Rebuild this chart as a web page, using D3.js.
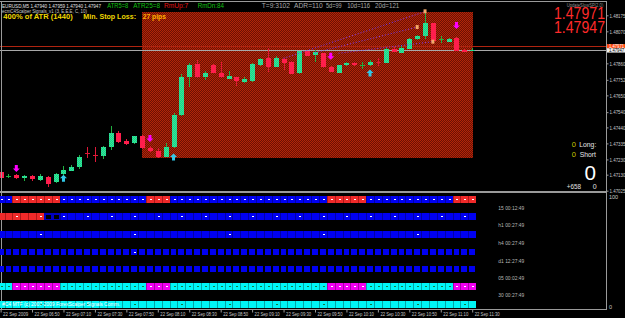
<!DOCTYPE html>
<html><head><meta charset="utf-8">
<script src="https://cdn.jsdelivr.net/npm/d3@7"></script>
<style>
html,body{margin:0;padding:0;background:#000;overflow:hidden}
svg{display:block}
text{font-family:"Liberation Sans",Arial,sans-serif}
</style></head><body>
<svg id="c" width="625" height="318"></svg>
<script>
// ---------------- DATA ----------------
const barTimes = ["06:30","06:35","06:40","06:45","06:50","06:55",
 "07:00","07:05","07:10","07:15","07:20","07:25","07:30","07:35","07:40","07:45","07:50","07:55",
 "08:00","08:05","08:10","08:15","08:20","08:25","08:30","08:35","08:40","08:45","08:50","08:55",
 "09:00","09:05","09:10","09:15","09:20","09:25","09:30","09:35","09:40","09:45","09:50","09:55",
 "10:00","10:05","10:10","10:15","10:20","10:25","10:30","10:35","10:40","10:45","10:50","10:55",
 "11:00","11:05","11:10","11:15","11:20","11:25","11:30"];
const openP  = [1.47150,1.47120,1.47128,1.47107,1.47122,1.47095,1.47113,1.47080,1.47135,1.47156,
 1.47183,1.47276,1.47264,1.47253,1.47314,1.47406,1.47349,1.47337,1.47385,1.47303,
 1.47286,1.47247,1.47314,1.47521,1.47772,1.47856,1.47772,1.47849,1.47798,1.47759,
 1.47768,1.47738,1.47742,1.47847,1.47897,1.47838,1.47888,1.47867,1.47795,1.47939,
 1.47915,1.47926,1.47838,1.47797,1.47847,1.47864,1.47846,1.47847,1.47870,1.47864,
 1.47952,1.47930,1.47954,1.48020,1.48041,1.48123,1.48017,1.48002,1.48024,1.47947,1.47940];
const highP  = [1.47154,1.47135,1.47135,1.47128,1.47125,1.47135,1.47122,1.47141,1.47187,1.47194,
 1.47259,1.47314,1.47314,1.47318,1.47450,1.47417,1.47367,1.47385,1.47392,1.47320,
 1.47305,1.47335,1.47534,1.47790,1.47862,1.47882,1.47809,1.47856,1.47870,1.47812,
 1.47773,1.47773,1.47859,1.47892,1.47959,1.47908,1.47895,1.47875,1.47944,1.47944,
 1.47945,1.47931,1.47842,1.47852,1.47869,1.47869,1.47869,1.47885,1.47893,1.47961,
 1.47967,1.47980,1.48023,1.48046,1.48199,1.48125,1.48039,1.48023,1.48033,1.47951,1.47959];
const lowP   = [1.47102,1.47109,1.47102,1.47091,1.47091,1.47089,1.47048,1.47076,1.47128,1.47154,
 1.47168,1.47238,1.47215,1.47231,1.47292,1.47339,1.47325,1.47331,1.47300,1.47280,
 1.47242,1.47245,1.47305,1.47514,1.47707,1.47764,1.47751,1.47794,1.47764,1.47757,
 1.47711,1.47734,1.47738,1.47843,1.47805,1.47833,1.47816,1.47787,1.47790,1.47905,
 1.47867,1.47829,1.47800,1.47794,1.47843,1.47843,1.47826,1.47843,1.47843,1.47859,
 1.47934,1.47928,1.47951,1.48016,1.48018,1.48006,1.47995,1.47999,1.47941,1.47934,1.47940];
const closeP = [1.47107,1.47122,1.47110,1.47122,1.47104,1.47122,1.47069,1.47135,1.47161,1.47183,
 1.47248,1.47274,1.47262,1.47314,1.47402,1.47343,1.47331,1.47381,1.47302,1.47284,
 1.47247,1.47309,1.47521,1.47772,1.47849,1.47768,1.47798,1.47798,1.47768,1.47777,
 1.47742,1.47755,1.47854,1.47886,1.47838,1.47897,1.47864,1.47792,1.47941,1.47908,
 1.47932,1.47834,1.47803,1.47847,1.47864,1.47847,1.47848,1.47869,1.47868,1.47954,
 1.47936,1.47959,1.48018,1.48039,1.48123,1.48008,1.48018,1.48018,1.47943,1.47936,1.47947];

const sellArrows = [{bar:"06:40",price:1.47171},{bar:"08:05",price:1.47368},{bar:"10:00",price:1.47906},{bar:"11:20",price:1.48108}];
const buyArrows  = [{bar:"07:10",price:1.47107},{bar:"08:20",price:1.47246},{bar:"10:25",price:1.47797}];
const pivotMarks = [{bar:"10:55",price:1.48098},{bar:"11:00",price:1.48201},{bar:"11:05",price:1.48002}];
const trendLines = [
  [{bar:"09:30",price:1.47893},{bar:"11:00",price:1.48199}],
  [{bar:"09:50",price:1.47930},{bar:"10:55",price:1.48098}],
  [{bar:"10:05",price:1.47926},{bar:"11:05",price:1.48002}]];
const zoneBox = {from:"08:00", to:"11:30", top:1.48199, bottom:1.47241};
const askPrice = 1.47971, bidPrice = 1.47947;

const priceTicks = [1.48175,1.48070,1.47860,1.47752,1.47650,1.47540,1.47440,1.47335,1.47230,1.47130,1.47025];
const priceTickLabels = ["1.48175","1.48070","1.47860","1.47752","1.47650","1.47540","1.47440","1.47335","1.47230","1.47130","1.47025"];
const timeTicks = ["06:30","06:50","07:10","07:30","07:50","08:10","08:30","08:50","09:10","09:30","09:50","10:10","10:30","10:50","11:10","11:30"];
const timeTickLabels = ["22 Sep 2009","22 Sep 06:50","22 Sep 07:10","22 Sep 07:30","22 Sep 07:50","22 Sep 08:10","22 Sep 08:30","22 Sep 08:50","22 Sep 09:10","22 Sep 09:30","22 Sep 09:50","22 Sep 10:10","22 Sep 10:30","22 Sep 10:50","22 Sep 11:10","22 Sep 11:30"];

// sub-window rows: run-length states (B blue, R red, K empty, C cyan, M magenta)
const rowRuns = [
  [["B",2],["R",6],["B",11],["R",3],["B",20],["R",5],["B",11],["R",3]],
  [["R",6],["K",2],["B",53]],
  [["B",61]],
  [["B",61]],
  [["B",61]],
  [["C",2],["M",6],["C",11],["M",3],["C",20],["M",5],["C",11],["M",3]],
  [["C",61]]];
const rowDotBars = [
  "all",
  [2,5,8,11,14,17,20,23,26,29,32,35,38,41,44,47,50,53,56,59],
  [5,17,29,41,53],
  [17],
  [],
  "all",
  [5,11,17,23,29,35,41,47,53,59]];
const rowLabels = ["15  00:12:49","h1  00:27:49","h4  00:27:49","d1  12:27:49","05  00:02:49","30  00:27:49"];

// ---------------- DRAW ----------------
const svg = d3.select("#c");
svg.append("rect").attr("width",625).attr("height",318).attr("fill","#000");
const defs = svg.append("defs");
function checker(id,a,b){
  const p = defs.append("pattern").attr("id",id).attr("width",2).attr("height",2).attr("patternUnits","userSpaceOnUse");
  p.append("rect").attr("width",2).attr("height",2).attr("fill",a);
  p.append("rect").attr("width",1).attr("height",1).attr("fill",b);
  p.append("rect").attr("x",1).attr("y",1).attr("width",1).attr("height",1).attr("fill",b);
}
checker("zonePat","#6c1004","#b22608");
checker("bullPat","#10f070","#40c8b0");

const x = d3.scalePoint().domain(barTimes).range([0.6, 472.2]);
const y = d3.scaleLinear().domain([1.47025, 1.48175]).range([190.7, 15.3]);
const step = x.step();
const px = v => Math.round(v) + 0.5;

const main = svg.append("g").attr("shape-rendering","crispEdges");

// zone rectangle
main.append("rect")
  .attr("x", x(zoneBox.from)).attr("y", y(zoneBox.top))
  .attr("width", x(zoneBox.to) - x(zoneBox.from) + 0.5)
  .attr("height", y(zoneBox.bottom) - y(zoneBox.top))
  .attr("fill","url(#zonePat)");

// trend lines
svg.append("g").selectAll("line").data(trendLines).join("line")
  .attr("x1", d => x(d[0].bar)).attr("y1", d => y(d[0].price))
  .attr("x2", d => x(d[1].bar)).attr("y2", d => y(d[1].price))
  .attr("stroke","#7a3cff").attr("stroke-width",1).attr("stroke-dasharray","1,2");

// price lines
main.append("line").attr("x1",0).attr("x2",606).attr("y1",px(y(askPrice))).attr("y2",px(y(askPrice))).attr("stroke","#b02410");
main.append("line").attr("x1",0).attr("x2",606).attr("y1",px(y(bidPrice))).attr("y2",px(y(bidPrice))).attr("stroke","#a8a8a8");

// candles
const bars = barTimes.map((t,i)=>({t,o:openP[i],h:highP[i],l:lowP[i],c:closeP[i]}));
const cg = main.append("g");
bars.forEach(d=>{
  const cx = px(x(d.t));
  const bull = d.c >= d.o;
  const doji = Math.abs(d.c - d.o) < 0.00003;
  const wickCol = bull ? "#20b040" : "#e01838";
  cg.append("line").attr("x1",cx).attr("x2",cx).attr("y1",y(d.h)).attr("y2",y(d.l)).attr("stroke",wickCol);
  if (doji) {
    cg.append("line").attr("x1",cx-2.5).attr("x2",cx+2.5).attr("y1",px(y(d.c))).attr("y2",px(y(d.c))).attr("stroke",wickCol);
  } else {
    const top = y(Math.max(d.o,d.c)), bot = y(Math.min(d.o,d.c));
    cg.append("rect").attr("x",cx-2.5).attr("width",5).attr("y",Math.round(top)).attr("height",Math.max(1,Math.round(bot)-Math.round(top)))
      .attr("fill", bull ? "url(#bullPat)" : "#ff1e4c");
  }
});

// arrows
function arrow(cx, cy, down, col){
  const s = down ? 1 : -1;
  const p = `M${cx-1.5},${cy-3.5*s} L${cx+1.5},${cy-3.5*s} L${cx+1.5},${cy} L${cx+3.5},${cy} L${cx},${cy+3.5*s} L${cx-3.5},${cy} L${cx-1.5},${cy} Z`;
  svg.append("path").attr("d",p).attr("fill",col);
}
sellArrows.forEach(a=>arrow(x(a.bar), y(a.price), true, "#ff00ff"));
buyArrows.forEach(a=>arrow(x(a.bar), y(a.price), false, "#30c8e8"));
pivotMarks.forEach(a=>{
  svg.append("path").attr("d",`M${x(a.bar)-1.5},${y(a.price)-2} L${x(a.bar)+1.5},${y(a.price)-2} L${x(a.bar)+1.5},${y(a.price)+2} L${x(a.bar)-1.5},${y(a.price)+2} Z`).attr("fill","#f4a868");
});

// frame lines
const frame = svg.append("g").attr("shape-rendering","crispEdges");
frame.append("line").attr("x1",0).attr("x2",606).attr("y1",1.5).attr("y2",1.5).attr("stroke","#9a9a9a");
frame.append("line").attr("x1",1).attr("x2",1).attr("y1",1).attr("y2",309).attr("stroke","#9a9a9a");
frame.append("rect").attr("x",0).attr("y",191).attr("width",606).attr("height",2).attr("fill","#9a9a9a");
frame.append("line").attr("x1",606.5).attr("x2",606.5).attr("y1",1).attr("y2",310).attr("stroke","#9a9a9a");
frame.append("line").attr("x1",0).attr("x2",607).attr("y1",309.5).attr("y2",309.5).attr("stroke","#9a9a9a");

// price axis
const yAxis = d3.axisRight(y).tickValues(priceTicks).tickSize(2).tickPadding(1)
  .tickFormat((d,i)=>priceTickLabels[i]);
const ya = svg.append("g").attr("transform","translate(606.5,0)").call(yAxis);
ya.select(".domain").remove();
ya.selectAll("line").attr("stroke","#9a9a9a");
ya.selectAll("text").attr("fill","#c8c8c8").attr("font-size",5.5).attr("x",3)
  .attr("textLength",16).attr("lengthAdjust","spacingAndGlyphs");

// ask / bid boxes
svg.append("rect").attr("x",607).attr("y",y(askPrice)-2.3).attr("width",18).attr("height",4.4).attr("fill","#ff4a10");
svg.append("text").attr("x",609).attr("y",y(askPrice)+1.8).text("1.47971").attr("fill","#fff").attr("font-size",5).attr("textLength",15).attr("lengthAdjust","spacingAndGlyphs");
svg.append("rect").attr("x",607).attr("y",y(bidPrice)-1.9).attr("width",18).attr("height",4.4).attr("fill","#f0f0f0");
svg.append("text").attr("x",609).attr("y",y(bidPrice)+2.2).text("1.47947").attr("fill","#000").attr("font-size",5).attr("textLength",15).attr("lengthAdjust","spacingAndGlyphs");

// time axis
const xAxis = d3.axisBottom(x).tickValues(timeTicks).tickSize(3)
  .tickFormat((d,i)=>timeTickLabels[i]);
const xa = svg.append("g").attr("transform","translate(0,309.5)").call(xAxis);
xa.select(".domain").remove();
xa.selectAll("line").attr("stroke","#9a9a9a");
xa.selectAll("text").attr("fill","#c8c8c8").attr("font-size",6).attr("text-anchor","start")
  .attr("x",2).attr("y",2).attr("dy","4.2")
  .attr("textLength",25).attr("lengthAdjust","spacingAndGlyphs");

// sub-window rows
const rowTop = [196,213.3,231,248.7,266,282.7,300.7];
const rowH   = [7.3,7.4,7.3,6.3,6,7.3,6.6];
const stateCol = {B:"#0000f0",R:"#f02a2a",K:"#000",C:"#00f6f6",M:"#f000f0"};
const stateBg  = {B:"#0000a8",R:"#b01818",K:"#0000c0",C:"#00a8a8",M:"#a800a8"};
const sub = svg.append("g").attr("shape-rendering","crispEdges");
rowRuns.forEach((runs,r)=>{
  const states = [];
  runs.forEach(([s,n])=>{ for(let k=0;k<n;k++) states.push(s); });
  const separated = (r===3 || r===4);
  states.forEach((s,i)=>{
    const cx = x(barTimes[i]);
    const x0 = Math.round(cx - step/2), x1 = Math.round(cx + step/2);
    const yt = Math.round(rowTop[r]), h = Math.round(rowH[r]);
    if (separated) {
      sub.append("rect").attr("x",x0+1).attr("y",yt).attr("width",x1-x0-2).attr("height",h).attr("fill",stateCol[s]);
    } else {
      sub.append("rect").attr("x",x0).attr("y",yt).attr("width",x1-x0).attr("height",h).attr("fill",stateBg[s]);
      if (s==="K") {
        sub.append("rect").attr("x",x0+1.5).attr("y",yt+1.5).attr("width",x1-x0-3).attr("height",h-3).attr("fill","#000");
      } else {
        sub.append("rect").attr("x",x0+1).attr("y",yt).attr("width",x1-x0-1).attr("height",h).attr("fill",stateCol[s]);
      }
    }
    const dots = rowDotBars[r];
    if (dots === "all" || dots.includes(i)) {
      const dc = (s==="C") ? "#108040" : "#ffffff";
      sub.append("rect").attr("x",Math.round(cx)).attr("y",yt+Math.floor(h/2)-0.5).attr("width",1.5).attr("height",1.5).attr("fill",dc);
    }
  });
});
rowLabels.forEach((t,r)=>{
  svg.append("text").attr("x",498.3).attr("y",rowTop[r]+14).text(t).attr("fill","#b8b8b8")
    .attr("font-size",5.5).attr("textLength",26).attr("lengthAdjust","spacingAndGlyphs");
});
svg.append("text").attr("x",2).attr("y",306).text("#C4 MTF (c) 2007-2009 ForexScalper Signals Comm.")
  .attr("fill","#ffffff").attr("font-size",4.8).attr("textLength",118).attr("lengthAdjust","spacingAndGlyphs");
svg.append("text").attr("x",609).attr("y",199).text("100").attr("fill","#c8c8c8").attr("font-size",5.5);
svg.append("text").attr("x",609).attr("y",309).text("0").attr("fill","#c8c8c8").attr("font-size",5.5);

// header texts
function T(xp, yp, str, size, col, tl, bold){
  const t = svg.append("text").attr("x",xp).attr("y",yp).text(str).attr("fill",col).attr("font-size",size);
  if (tl) t.attr("textLength",tl).attr("lengthAdjust","spacingAndGlyphs");
  if (bold) t.attr("font-weight","bold");
  return t;
}
T(2,7.6,"EURUSD,M5  1.47940 1.47959 1.47940 1.47947",6,"#e0e0e0",99);
T(107.3,8.3,"ATR5=8",7.5,"#10c010",21);
T(133.3,8.3,"ATR25=8",7.5,"#10c010",26.7);
T(164,8.3,"RmUp:7",7.5,"#e01010",24.3);
T(197.7,8.3,"RmDn:84",7.5,"#10c010",26.3);
T(261.7,8.3,"T=9:3102",7.5,"#a8a8a8",28.3);
T(294,8.3,"ADR=110",7.5,"#a8a8a8",28.7);
T(326,8.3,"5d=99",7.5,"#a8a8a8",15.7);
T(347.3,8.3,"10d=116",7.5,"#a8a8a8",22.7);
T(375,8.3,"20d=121",7.5,"#a8a8a8",24.3);
T(2,12.6,"ecmC4Scalper Signals_v1 (3, E.E.E, C, 10)",5,"#c8c8c8",85);
T(3.3,18.5,"400% of ATR (1440)",7.5,"#f0d800",69.4,true);
T(83.3,18.5,"Min. Stop Loss:",7.5,"#f0d800",52.7,true);
T(142.7,18.5,"27 pips",7.5,"#ffb400",23.3,true);
T(566.7,6.7,"UpdateSlowSP(2.0)",4.5,"#909090",36.6);
T(554,18.6,"1.47971",16,"#ff2a2a",51);
T(554,33.4,"1.47947",16,"#ff2a2a",51);
T(571.7,147.3,"0",7.5,"#c8c800");
T(579.3,147.3,"Long:",7.5,"#e8e8e8",17);
T(571.7,157.3,"0",7.5,"#c8c800");
T(579.8,157.3,"Short",7.5,"#e8e8e8",16.2);
T(584.5,179.5,"0",21,"#ffffff",11.5);
T(566.7,188.6,"+658",7,"#e0e0e0",14.3);
T(592.7,188.6,"0",7,"#e0e0e0");
</script>
</body></html>
